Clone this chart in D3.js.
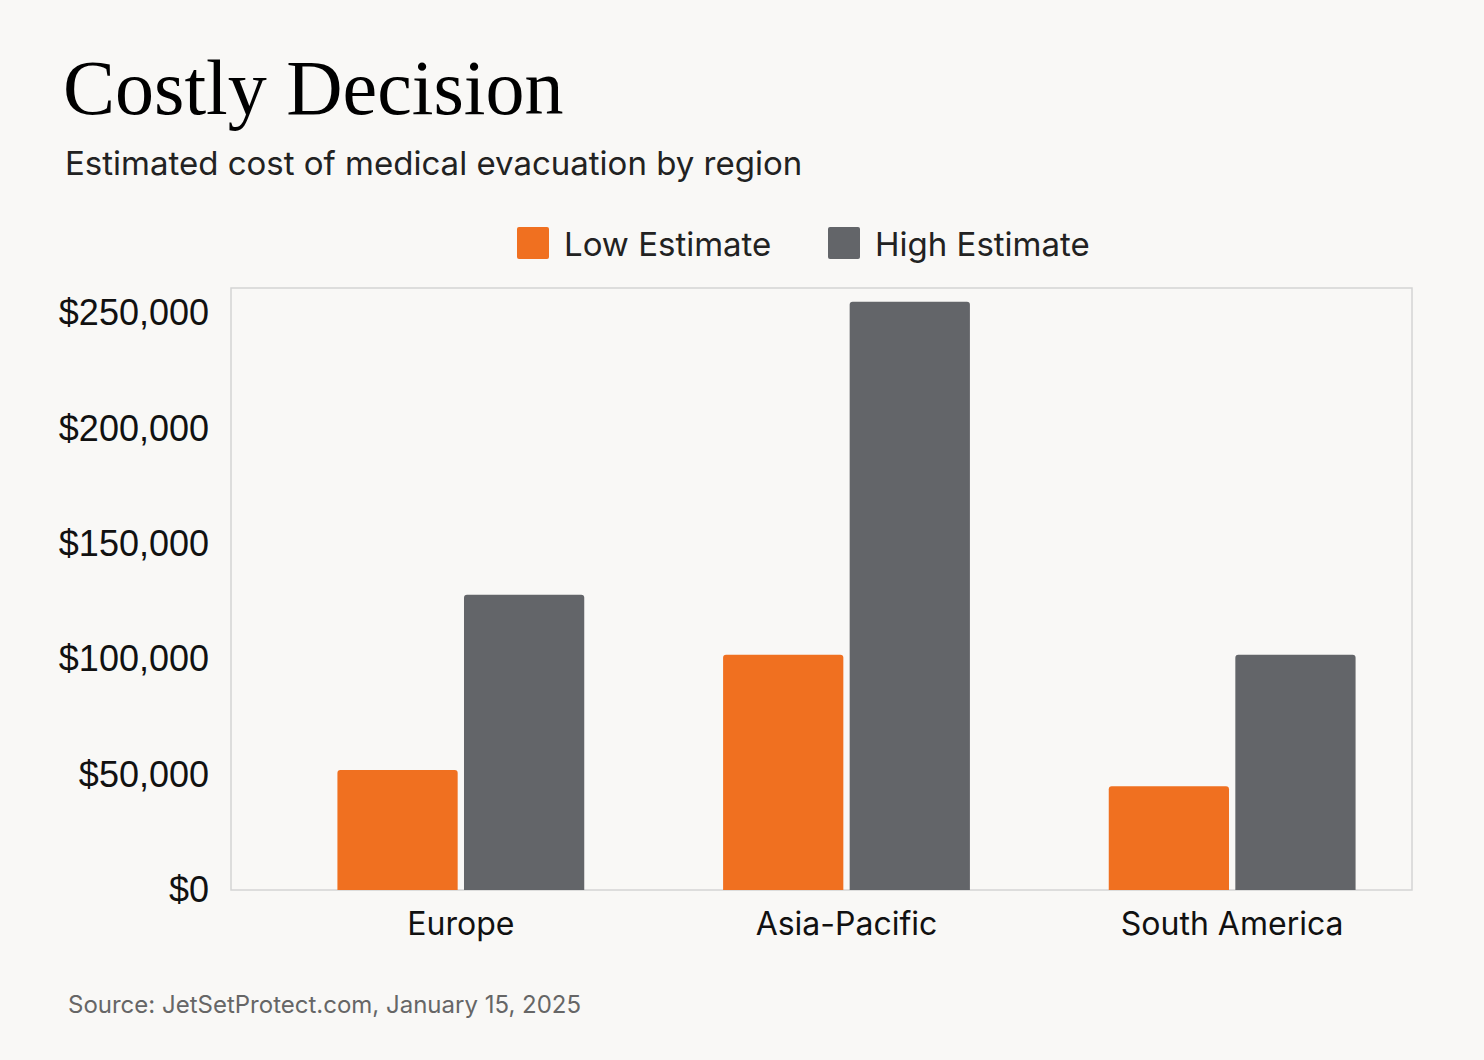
<!DOCTYPE html>
<html><head><meta charset="utf-8">
<script src="https://cdn.jsdelivr.net/npm/d3@7"></script>
<style>body{margin:0;background:#f9f8f6}</style>
</head><body>
<svg width="1484" height="1060"></svg>
<script>
var regions = ["Europe", "Asia-Pacific", "South America"];
var seriesNames = ["Low Estimate", "High Estimate"];
var lowValues = [52000, 102000, 45000];
var highValues = [128000, 255000, 102000];
var yTicks = [0, 50000, 100000, 150000, 200000, 250000];
var colors = ["#f07020", "#636569"];

var svg = d3.select("svg");
svg.append("rect").attr("width", 1484).attr("height", 1060).attr("fill", "#f9f8f6");

svg.append("text").attr("x", 63).attr("y", 114)
    .style("font-family", "Liberation Serif, serif").style("font-size", "78px")
    .text("Costly Decision");
svg.append("text").attr("x", 65).attr("y", 175)
    .style("font-family", "Inter, sans-serif").style("font-size", "33px").attr("fill", "#222")
    .text("Estimated cost of medical evacuation by region");

// legend
var lx = [517, 828];
seriesNames.forEach(function(s, i){
    svg.append("rect").attr("x", lx[i]).attr("y", 227).attr("width", 32).attr("height", 32)
        .attr("rx", 2).attr("fill", colors[i]);
    svg.append("text").attr("x", lx[i] + 47).attr("y", 256)
        .style("font-family", "Inter, sans-serif").style("font-size", "33px").attr("fill", "#222")
        .text(s);
});

var y = d3.scaleLinear().domain([0, 261000]).range([890, 288]);
var x = d3.scaleBand().domain(regions).range([268, 1425]).paddingInner(0.36).paddingOuter(0.18);
var xs = d3.scaleBand().domain(seriesNames).range([0, x.bandwidth()]).paddingInner(0.05);

svg.append("rect").attr("x", 231).attr("y", 288).attr("width", 1181).attr("height", 602)
    .attr("fill", "none").attr("stroke", "#d4d4d4").attr("stroke-width", 1.5);

var fmt = d3.format(",");
svg.selectAll("text.yt").data(yTicks).enter().append("text")
    .attr("x", 209).attr("y", function(d){ return y(d) + 12; })
    .attr("text-anchor", "end")
    .style("font-family", "Liberation Sans, sans-serif").style("font-size", "36px").attr("fill", "#111")
    .text(function(d){ return "$" + fmt(d); });

var rows = [];
regions.forEach(function(r, i){
    rows.push({r: r, s: seriesNames[0], v: lowValues[i], c: colors[0]});
    rows.push({r: r, s: seriesNames[1], v: highValues[i], c: colors[1]});
});
svg.selectAll("path.bar").data(rows).enter().append("path")
    .attr("fill", function(d){ return d.c; })
    .attr("d", function(d){
        var x0 = x(d.r) + xs(d.s), w = xs.bandwidth(), t = y(d.v), b = y(0), r = 3;
        return "M" + x0 + "," + b + "V" + (t + r) + "Q" + x0 + "," + t + " " + (x0 + r) + "," + t +
            "H" + (x0 + w - r) + "Q" + (x0 + w) + "," + t + " " + (x0 + w) + "," + (t + r) + "V" + b + "Z";
    });

svg.selectAll("text.xl").data(regions).enter().append("text")
    .attr("x", function(d){ return x(d) + x.bandwidth() / 2; }).attr("y", 935)
    .attr("text-anchor", "middle")
    .style("font-family", "Inter, sans-serif").style("font-size", "32px").attr("fill", "#111")
    .text(function(d){ return d; });

svg.append("text").attr("x", 68).attr("y", 1013)
    .style("font-family", "Inter, sans-serif").style("font-size", "24px").attr("fill", "#666")
    .text("Source: JetSetProtect.com, January 15, 2025");
</script>
</body></html>
